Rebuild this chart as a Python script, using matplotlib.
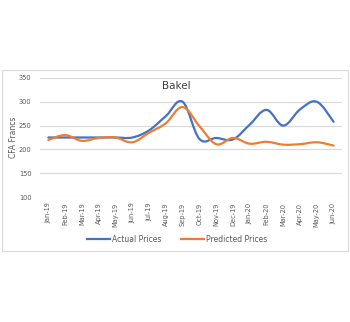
import matplotlib.pyplot as plt
from matplotlib.path import Path
from matplotlib.patches import PathPatch, Rectangle
from matplotlib.lines import Line2D

months = ["Jan-19", "Feb-19", "Mar-19", "Apr-19", "May-19", "Jun-19", "Jul-19", "Aug-19",
          "Sep-19", "Oct-19", "Nov-19", "Dec-19", "Jan-20", "Feb-20", "Mar-20", "Apr-20",
          "May-20", "Jun-20"]
actual = [225, 225, 225, 225, 225, 225, 240, 270, 300, 222, 224, 221, 252, 283, 250, 284, 300, 258]
predicted = [220, 230, 218, 224, 225, 215, 235, 255, 289, 249, 211, 224, 212, 216, 210, 211, 215, 208]

BLUE = "#4472C4"
ORANGE = "#ED7D31"
GREY = "#595959"


def smooth_path(xs, ys, t=0.18):
    # Excel-style smoothed line drawn as cubic bezier segments through the points
    verts = [(xs[0], ys[0])]
    codes = [Path.MOVETO]
    n = len(xs)
    for i in range(n - 1):
        x0, y0 = xs[max(i - 1, 0)], ys[max(i - 1, 0)]
        x1, y1 = xs[i], ys[i]
        x2, y2 = xs[i + 1], ys[i + 1]
        x3, y3 = xs[min(i + 2, n - 1)], ys[min(i + 2, n - 1)]
        c1 = (x1 + (x2 - x0) * t, y1 + (y2 - y0) * t)
        c2 = (x2 - (x3 - x1) * t, y2 - (y3 - y1) * t)
        verts += [c1, c2, (x2, y2)]
        codes += [Path.CURVE4] * 3
    return Path(verts, codes)


fig = plt.figure(figsize=(3.5, 3.22), dpi=100)
fig.patches.append(Rectangle((2 / 350, 1 - 251 / 322), 346 / 350, 181 / 322,
                             transform=fig.transFigure, fill=False,
                             edgecolor="#D9D9D9", linewidth=0.8))

ax = fig.add_axes([40 / 350, 1 - 197 / 322, 302 / 350, 119 / 322])
x = list(range(len(months)))
for ys, col in [(actual, BLUE), (predicted, ORANGE)]:
    ax.add_patch(PathPatch(smooth_path(x, ys), facecolor="none", edgecolor=col,
                           linewidth=1.6, capstyle="round"))

ax.set_xlim(-0.5, len(months) - 0.5)
ax.set_ylim(100, 350)
ax.set_yticks([100, 150, 200, 250, 300, 350])
ax.set_xticks(x)
ax.set_xticklabels(months, rotation=90, fontsize=4.8, color=GREY)
ax.tick_params(axis="y", labelsize=4.8, labelcolor=GREY, length=0, pad=6)
ax.tick_params(axis="x", length=0, pad=4)
ax.grid(axis="y", color="#D9D9D9", linewidth=0.8)
ax.set_axisbelow(True)
for s in ax.spines.values():
    s.set_visible(False)
ax.set_ylabel("CFA Francs", fontsize=5.5, color=GREY, labelpad=1)
ax.text(0.45, 0.93, "Bakel", transform=ax.transAxes, ha="center", va="center",
        fontsize=7.5, color="#404040")

handles = [Line2D([], [], color=BLUE, linewidth=1.6), Line2D([], [], color=ORANGE, linewidth=1.6)]
fig.legend(handles, ["Actual Prices", "Predicted Prices"], loc="center",
           bbox_to_anchor=(177 / 350, 1 - 239 / 322), ncol=2, frameon=False,
           fontsize=5.5, labelcolor=GREY, handlelength=3, handletextpad=0.3,
           columnspacing=2.5)

fig.savefig("out.png", dpi=100)
